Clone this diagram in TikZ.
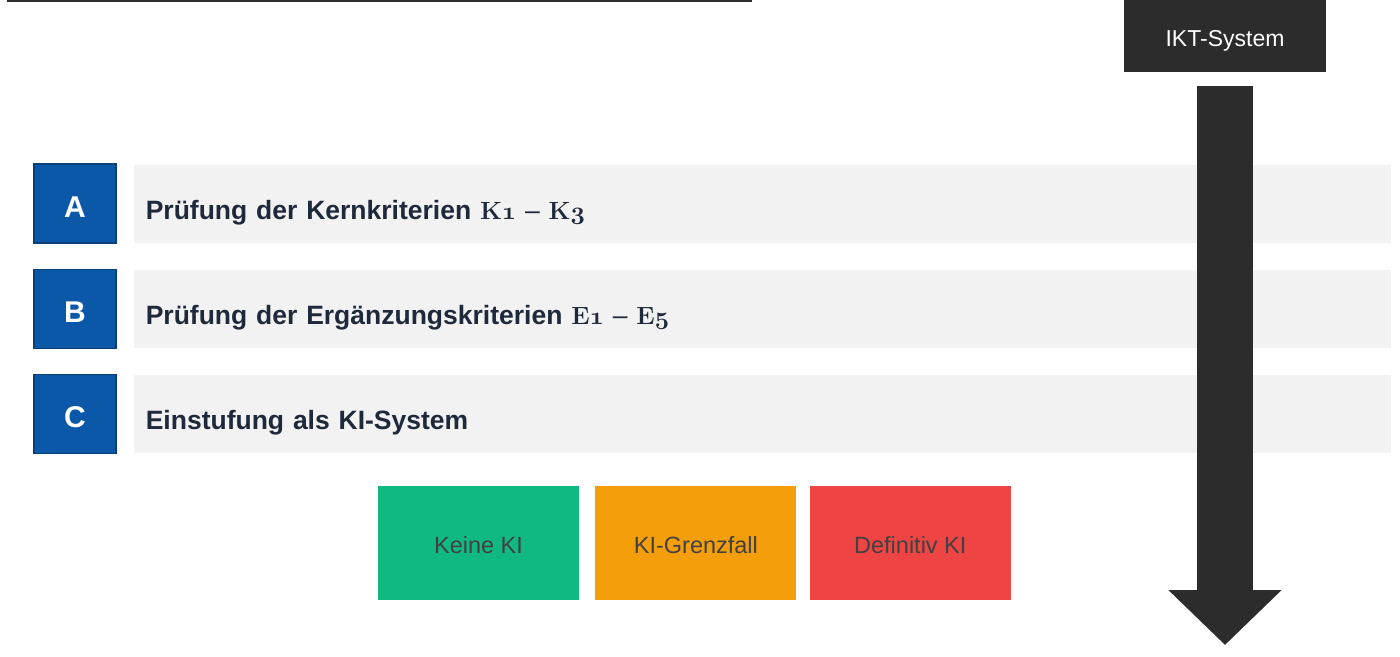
\documentclass[tikz,border=0pt]{standalone}
\usepackage{fontspec}
\setmainfont{Liberation Sans}
\usetikzlibrary{positioning,arrows.meta}

\definecolor{stepblue}{HTML}{0B58A8}
\definecolor{stepedge}{HTML}{0A3E78}
\definecolor{bargray}{HTML}{F2F2F2}
\definecolor{inkblue}{HTML}{1E293B}
\definecolor{darkbox}{HTML}{2C2C2C}
\definecolor{nokigreen}{HTML}{10B981}
\definecolor{edgeorange}{HTML}{F59E0B}
\definecolor{kired}{HTML}{EF4444}

% serif criterion label with old style digit
\newcommand{\critlabel}[2]{{\fontsize{29}{30}\usefont{OT1}{cmr}{bx}{n}#1%
  \usefont{OML}{cmm}{b}{it}#2}}

\begin{document}
\begin{tikzpicture}[x=1pt,y=-1pt,
    letter/.style={draw=stepedge,line width=1.2pt,fill=stepblue,text=white,
        minimum width=82pt,minimum height=79pt,inner sep=0pt,
        text height=27pt,text depth=0pt,
        font=\fontsize{30}{32}\selectfont\bfseries},
    bar/.style={fill=bargray,text=inkblue,minimum height=78pt,
        text width=1233pt,inner xsep=12pt,inner ysep=0pt,align=left,
        text height=31pt,text depth=0pt,
        font=\fontsize{26.5}{30}\selectfont\bfseries},
    verdict/.style={minimum width=201pt,minimum height=114pt,inner sep=0pt,
        text height=20pt,text depth=0pt,
        text=darkbox!90,font=\fontsize{23.5}{26}\selectfont},
    arrowstem/.style={draw=darkbox,line width=56pt,shorten <=14pt,
        -{Triangle[width=110pt,length=55pt]}}]
  \useasboundingbox (0,0) rectangle (1400,656);

  % top rule
  \draw[darkbox,line width=2.5pt] (7,1) -- (752,1);

  % steps
  \node[letter] (A) at (75,203.5) {A};
  \node[letter] (B) [below=25pt of A] {B};
  \node[letter] (C) [below=25pt of B] {C};

  \node[bar] (barA) [right=17pt of A] {Prüfung der Kernkriterien \critlabel{K}{1} \textmd{–} \critlabel{K}{3}};
  \node[bar] (barB) [right=17pt of B] {Prüfung der Ergänzungskriterien \critlabel{E}{1} \textmd{–} \critlabel{E}{5}};
  \node[bar] (barC) [right=17pt of C] {Einstufung als KI-System};

  % results
  \node[verdict,fill=nokigreen] (keine) at (478.5,543) {Keine KI};
  \node[verdict,fill=edgeorange] (grenz) [right=16pt of keine] {KI-Grenzfall};
  \node[verdict,fill=kired] (definitiv) [right=13pt of grenz] {Definitiv KI};

  % system and flow arrow
  \node[fill=darkbox,text=white,minimum width=202pt,minimum height=72pt,
        text height=20pt,text depth=0pt,
        font=\fontsize{23}{26}\selectfont] (ikt) at (1225,36) {IKT-System};
  \coordinate (tip) at (1225,645);
  \draw[arrowstem] (ikt.south) -- (tip);
\end{tikzpicture}
\end{document}
